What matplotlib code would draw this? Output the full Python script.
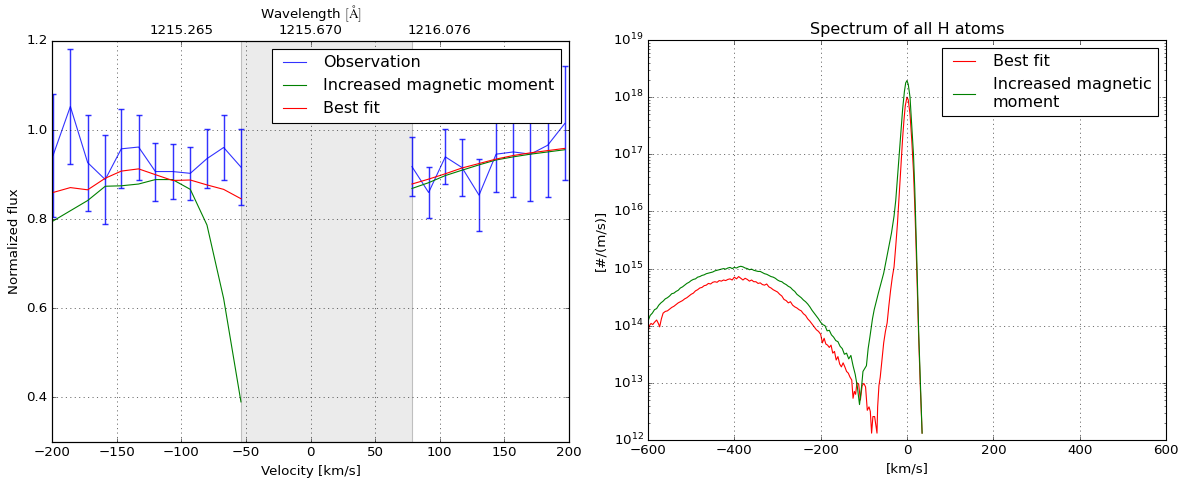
import numpy as np
import matplotlib

matplotlib.use("Agg")
import matplotlib.pyplot as plt

# ---- left panel: Lyman-alpha line profile ----
vel_blue = [-199.2, -185.8, -172.4, -158.8, -146.4, -133.0, -120.0, -106.7, -93.0, -80.1, -67.2, -53.8]
vel_red = [78.5, 91.4, 104.3, 117.2, 130.4, 143.6, 156.9, 170.2, 183.5, 196.8]

obs_blue = [0.943, 1.053, 0.927, 0.889, 0.958, 0.962, 0.907, 0.907, 0.903, 0.936, 0.961, 0.917]
err_blue = [0.138, 0.128, 0.108, 0.099, 0.089, 0.073, 0.065, 0.061, 0.059, 0.066, 0.074, 0.085]
obs_red = [0.918, 0.860, 0.940, 0.916, 0.854, 0.946, 0.951, 0.946, 0.966, 1.015]
err_red = [0.067, 0.057, 0.062, 0.065, 0.081, 0.086, 0.102, 0.106, 0.117, 0.128]

mag_blue = [0.796, 0.819, 0.842, 0.874, 0.875, 0.879, 0.889, 0.889, 0.867, 0.787, 0.622, 0.390]
mag_red = [0.869, 0.882, 0.898, 0.910, 0.922, 0.933, 0.940, 0.946, 0.951, 0.956]

fit_blue = [0.860, 0.871, 0.866, 0.892, 0.908, 0.913, 0.900, 0.887, 0.888, 0.877, 0.867, 0.846]
fit_red = [0.879, 0.890, 0.902, 0.915, 0.925, 0.935, 0.943, 0.949, 0.954, 0.959]

masked = (-53.8, 78.3)
wl_ticks = [-100, 0, 100]
wl_labels = ["1215.265", "1215.670", "1216.076"]

# ---- right panel: velocity spectrum of all H atoms (log10 of #/(m/s)) ----
v_fit = [-600, -597, -593, -589, -585, -580, -576, -573, -569, -565, -560, -555, -550, -545,
         -540, -535, -530, -525, -520, -515, -510, -505, -500, -495, -490, -485, -480, -475,
         -470, -465, -460, -455, -450, -445, -440, -435, -430, -425, -420, -415, -410, -405,
         -400, -395, -390, -385, -380, -375, -370, -365, -360, -355, -350, -345, -340, -335,
         -330, -325, -320, -315, -310, -305, -300, -295, -290, -285, -280, -275, -270, -265,
         -260, -255, -250, -245, -240, -235, -230, -225, -220, -215, -210, -205, -200, -196,
         -192, -188, -184, -180, -176, -172, -168, -164, -160, -156, -152, -148, -144, -140,
         -136, -132, -128, -125, -122, -119, -116, -112, -108, -104, -100, -96, -92, -88,
         -85, -82, -79, -75, -72, -69.5, -68, -65, -62, -58, -54, -50, -46, -42, -38, -34,
         -30, -26, -22, -18, -14, -10, -7, -4, 0, 3, 7, 11, 15, 18, 21, 24, 27, 31, 35]
log_fit = [13.88, 14.00, 14.04, 14.02, 14.06, 14.10, 14.04, 13.98, 14.12, 14.22, 14.25, 14.26,
           14.29, 14.32, 14.34, 14.37, 14.40, 14.42, 14.44, 14.47, 14.49, 14.52, 14.55, 14.57,
           14.61, 14.63, 14.66, 14.67, 14.70, 14.71, 14.74, 14.73, 14.76, 14.77, 14.76, 14.79,
           14.78, 14.80, 14.79, 14.81, 14.82, 14.80, 14.85, 14.82, 14.86, 14.83, 14.80, 14.83,
           14.81, 14.78, 14.80, 14.77, 14.77, 14.74, 14.75, 14.72, 14.71, 14.73, 14.68, 14.66,
           14.63, 14.61, 14.59, 14.55, 14.52, 14.46, 14.44, 14.40, 14.42, 14.36, 14.33, 14.31,
           14.28, 14.26, 14.21, 14.18, 14.12, 14.08, 14.03, 13.98, 13.93, 13.90, 13.85, 13.70,
           13.78, 13.68, 13.66, 13.62, 13.66, 13.52, 13.55, 13.40, 13.46, 13.33, 13.28, 13.35,
           13.28, 13.20, 13.17, 13.10, 13.05, 12.73, 12.85, 12.80, 13.00, 12.98, 12.70, 12.95,
           12.99, 12.93, 12.52, 12.58, 12.50, 12.12, 12.41, 12.41, 12.25, 12.12, 12.58, 12.95,
           13.10, 13.40, 13.70, 13.90, 14.05, 14.35, 14.62, 14.85, 15.03, 15.40, 15.80, 16.30,
           16.80, 17.30, 17.60, 17.85, 18.00, 17.95, 17.70, 17.25, 16.70, 16.10, 15.40, 14.60,
           13.80, 12.90, 12.12]

v_mag = [-600, -595, -590, -585, -580, -575, -570, -565, -560, -555, -550, -545, -540, -535,
         -530, -525, -520, -515, -510, -505, -500, -495, -490, -485, -480, -475, -470, -465,
         -460, -455, -450, -445, -440, -435, -430, -425, -420, -415, -410, -405, -400, -395,
         -390, -385, -380, -375, -370, -365, -360, -355, -350, -345, -340, -335, -330, -325,
         -320, -315, -310, -305, -300, -295, -290, -285, -280, -275, -270, -265, -260, -255,
         -250, -245, -240, -235, -230, -225, -220, -215, -210, -205, -200, -195, -190, -185,
         -180, -175, -170, -165, -160, -155, -150, -145, -140, -135, -130, -125, -120, -115,
         -110, -105, -102, -98, -94, -90, -86, -80, -76, -72, -66, -60, -54, -48, -42, -36,
         -30, -26, -22, -18, -14, -10, -6, -3, 0, 3, 7, 11, 15, 18, 21, 24, 27, 31, 35]
log_mag = [14.08, 14.18, 14.22, 14.28, 14.30, 14.36, 14.40, 14.43, 14.47, 14.49, 14.52, 14.56,
           14.57, 14.60, 14.62, 14.66, 14.68, 14.71, 14.74, 14.76, 14.79, 14.81, 14.82, 14.85,
           14.86, 14.88, 14.89, 14.91, 14.92, 14.93, 14.94, 14.96, 14.97, 14.98, 14.99, 15.00,
           14.99, 15.01, 15.02, 15.00, 15.02, 15.01, 15.03, 15.04, 15.03, 15.01, 15.00, 14.98,
           14.99, 14.97, 14.96, 14.95, 14.95, 14.93, 14.91, 14.90, 14.88, 14.86, 14.85, 14.83,
           14.80, 14.78, 14.77, 14.74, 14.72, 14.69, 14.67, 14.63, 14.60, 14.55, 14.52, 14.49,
           14.45, 14.42, 14.38, 14.33, 14.27, 14.22, 14.17, 14.12, 14.06, 14.02, 14.00, 13.91,
           13.92, 13.84, 13.80, 13.74, 13.72, 13.64, 13.60, 13.50, 13.52, 13.42, 13.48, 13.30,
           13.15, 12.93, 12.62, 12.95, 13.20, 13.25, 13.30, 13.60, 13.80, 14.12, 14.28, 14.40,
           14.58, 14.75, 14.92, 15.15, 15.38, 15.62, 15.92, 16.20, 16.60, 17.00, 17.40, 17.80,
           18.10, 18.25, 18.29, 18.22, 18.00, 17.50, 17.00, 16.40, 15.60, 14.80, 13.90, 13.00,
           12.12]

plt.style.use("classic")
plt.rcParams["figure.facecolor"] = "white"
plt.rcParams["savefig.facecolor"] = "white"

fig = plt.figure(figsize=(1187 / 80, 481 / 80), dpi=80)

# left
ax = fig.add_axes([52 / 1187, 39 / 481, 517 / 1187, 401 / 481])
ax.axvspan(masked[0], masked[1], facecolor="0.92", edgecolor="0.75", zorder=0)
for v, o, e in ((vel_blue, obs_blue, err_blue), (vel_red, obs_red, err_red)):
    ax.errorbar(v, o, yerr=e, fmt="none", ecolor="b", elinewidth=1.3,
                capsize=3, capthick=1.3, alpha=0.8)
ax.plot(vel_blue, obs_blue, "b-", alpha=0.8, label="Observation")
ax.plot(vel_red, obs_red, "b-", alpha=0.8)
ax.plot(vel_blue, mag_blue, "g-", label="Increased magnetic moment")
ax.plot(vel_red, mag_red, "g-")
ax.plot(vel_blue, fit_blue, "r-", label="Best fit")
ax.plot(vel_red, fit_red, "r-")
ax.set_xlim(-200, 200)
ax.set_ylim(0.3, 1.2)
ax.set_yticks([0.4, 0.6, 0.8, 1.0, 1.2])
ax.set_xlabel("Velocity [km/s]")
ax.set_ylabel("Normalized flux")
ax.grid(True)
ax.legend(loc="upper right")

top = ax.twiny()
top.set_xlim(ax.get_xlim())
top.set_xticks(wl_ticks)
top.set_xticklabels(wl_labels)
top.set_xlabel(r"Wavelength $[\mathrm{\AA}]$")

# right
ax2 = fig.add_axes([648 / 1187, 41 / 481, 518 / 1187, 400 / 481])
ax2.plot(v_fit, np.power(10.0, log_fit), "r-", label="Best fit")
ax2.plot(v_mag, np.power(10.0, log_mag), "g-", label="Increased magnetic\nmoment")
ax2.set_yscale("log")
ax2.set_xlim(-600, 600)
ax2.set_ylim(1e12, 1e19)
ax2.set_xlabel("[km/s]")
ax2.set_ylabel("[#/(m/s)]")
ax2.set_title("Spectrum of all H atoms")
ax2.grid(True)
ax2.legend(loc="upper right")

fig.savefig("out.png", dpi=80)
